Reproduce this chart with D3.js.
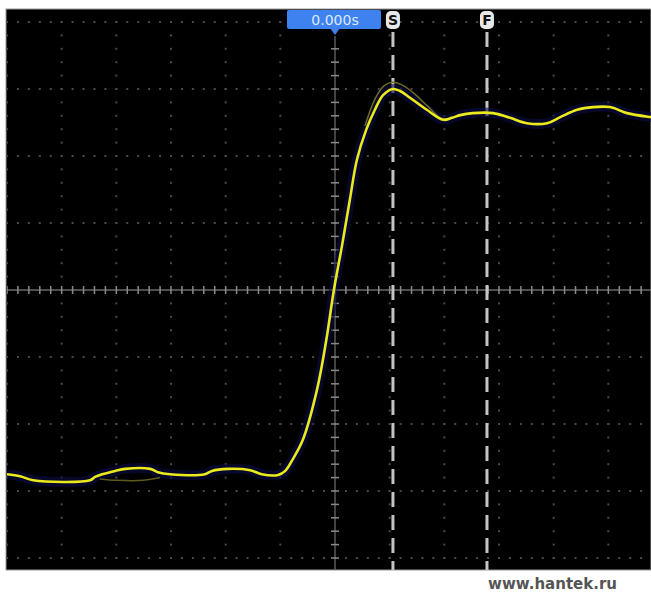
<!DOCTYPE html>
<html><head><meta charset="utf-8">
<script src="https://cdn.jsdelivr.net/npm/d3@7"></script>
<style>html,body{margin:0;padding:0;background:#fff;}svg{display:block;}</style>
</head><body>
<svg id="chart" width="651" height="594"></svg>
<script>
// ---- data (time and amplitude in screen divisions) ----
const traceTime = [-6.00,-5.76,-5.52,-4.48,-4.39,-4.26,-4.02,-3.84,-3.38,-3.24,-3.02,-2.38,-2.25,-1.96,-1.55,-1.34,-1.04,-0.91,-0.79,-0.59,-0.33,-0.16,-0.02,0.13,0.27,0.40,0.57,0.73,0.88,1.06,1.19,1.37,1.68,1.98,2.14,2.29,2.52,2.89,3.20,3.51,3.88,4.12,4.43,4.72,5.03,5.34,5.78,6.0];
const traceVolt = [-2.75,-2.78,-2.84,-2.84,-2.79,-2.75,-2.70,-2.67,-2.67,-2.72,-2.75,-2.75,-2.70,-2.67,-2.69,-2.75,-2.76,-2.70,-2.55,-2.24,-1.49,-0.75,0.00,0.67,1.34,1.94,2.39,2.69,2.91,3.00,2.97,2.87,2.69,2.54,2.57,2.61,2.64,2.64,2.57,2.49,2.49,2.58,2.69,2.73,2.73,2.64,2.58,2.56];
const shadowTime = [0.55,0.73,0.90,1.06,1.25,1.45,1.70,1.95,2.15];
const shadowVolt = [2.45,2.85,3.05,3.10,3.05,2.93,2.74,2.56,2.57];
const shadowLowTime = [-4.30,-4.00,-3.50,-3.20];
const shadowLowVolt = [-2.82,-2.84,-2.84,-2.80];
const cursorTimes = [1.06, 2.78];
const cursorLabels = ["S", "F"];
const triggerLabel = "0.000s";
const watermark = "www.hantek.ru";

// ---- layout ----
const svg = d3.select("#chart");
const plot = {x0: 7, x1: 651, y0: 10, y1: 570};
const x = d3.scaleLinear().domain([-6, 6]).range([7, 663]);
const y = d3.scaleLinear().domain([-4, 4]).range([558, 22]);

svg.append("defs").append("clipPath").attr("id","clip")
  .append("rect").attr("x",plot.x0).attr("y",plot.y0).attr("width",plot.x1-plot.x0).attr("height",plot.y1-plot.y0);

svg.append("rect").attr("x",plot.x0-1).attr("y",plot.y0-1).attr("width",plot.x1-plot.x0+1).attr("height",plot.y1-plot.y0+1)
  .attr("fill","#000").attr("stroke","#9a9a9a").attr("stroke-width",1);

const g = svg.append("g").attr("clip-path","url(#clip)");

// grid dots
const majorX = d3.range(-6, 7, 1);
const majorY = d3.range(-4, 5, 1);
const minorX = d3.range(-6, 6.01, 0.2);
const minorY = d3.range(-4, 4.01, 0.2);
const dots = [];
majorY.forEach(v => { if (v !== 0) minorX.forEach(t => dots.push([t, v])); });
majorX.forEach(t => { if (t !== 0) minorY.forEach(v => dots.push([t, v])); });
g.selectAll("rect.dot").data(dots).join("rect").attr("class","dot")
  .attr("x", d => x(d[0]) - 1).attr("y", d => y(d[1]) - 1)
  .attr("width", 2).attr("height", 2).attr("fill", "#4a4a4a");

// center axes
g.append("line").attr("x1",plot.x0).attr("x2",plot.x1).attr("y1",y(0)).attr("y2",y(0))
  .attr("stroke","#6a6a6a").attr("stroke-width",1.5);
g.append("line").attr("x1",x(0)).attr("x2",x(0)).attr("y1",plot.y0+26).attr("y2",plot.y1)
  .attr("stroke","#5a5a5a").attr("stroke-width",1.5);
g.selectAll("line.tx").data(minorX).join("line").attr("class","tx")
  .attr("x1", d => x(d)).attr("x2", d => x(d)).attr("y1", y(0)-4).attr("y2", y(0)+4)
  .attr("stroke","#8a8a8a").attr("stroke-width",1.5);
g.selectAll("line.ty").data(minorY.filter(v => y(v) > 36)).join("line").attr("class","ty")
  .attr("x1", x(0)-4).attr("x2", x(0)+4).attr("y1", d => y(d)).attr("y2", d => y(d))
  .attr("stroke","#8a8a8a").attr("stroke-width",1.5);

// cursors
g.selectAll("line.cursor").data(cursorTimes).join("line").attr("class","cursor")
  .attr("x1", d => x(d)).attr("x2", d => x(d)).attr("y1", 32).attr("y2", plot.y1)
  .attr("stroke","#c4c4c4").attr("stroke-width",3).attr("stroke-dasharray","15,8");

// trace
const line = d3.line().x(d => x(d[0])).y(d => y(d[1])).curve(d3.curveCatmullRom.alpha(0.5));
const trace = traceTime.map((t, i) => [t, traceVolt[i]]);
g.append("path").attr("d", line(trace)).attr("fill","none")
  .attr("stroke","#0b0b46").attr("stroke-width",10).attr("stroke-opacity",0.6).attr("stroke-linejoin","round");
g.append("path").attr("d", line(shadowTime.map((t,i)=>[t,shadowVolt[i]]))).attr("fill","none")
  .attr("stroke","#6e6a22").attr("stroke-width",1.5);
g.append("path").attr("d", line(shadowLowTime.map((t,i)=>[t,shadowLowVolt[i]]))).attr("fill","none")
  .attr("stroke","#5e5a1e").attr("stroke-width",1.5);
g.append("path").attr("d", line(trace)).attr("fill","none")
  .attr("stroke","#eaea1c").attr("stroke-width",2.6).attr("stroke-linejoin","round");

// trigger time tag
const tx0 = x(0);
svg.append("rect").attr("x", tx0-48).attr("y", 10).attr("width", 94).attr("height", 19).attr("rx",2)
  .attr("fill","#3d82ee");
svg.append("path").attr("d", `M${tx0-5},28 L${tx0},35 L${tx0+5},28 Z`).attr("fill","#3d82ee");
svg.append("text").attr("x", tx0).attr("y", 25).attr("text-anchor","middle")
  .attr("font-family","DejaVu Sans, sans-serif").attr("font-size",14).attr("fill","#dfe9ff")
  .text(triggerLabel);

// cursor labels
const tags = svg.selectAll("g.tag").data(cursorTimes).join("g").attr("class","tag")
  .attr("transform", d => `translate(${x(d)},0)`);
tags.append("rect").attr("x",-7).attr("y",11).attr("width",14).attr("height",18).attr("rx",5)
  .attr("fill","#e8e8e8");
tags.append("text").attr("x",0).attr("y",25).attr("text-anchor","middle")
  .attr("font-family","DejaVu Sans, sans-serif").attr("font-weight","bold").attr("font-size",14)
  .attr("fill","#111").text((d,i) => cursorLabels[i]);

// watermark
svg.append("text").attr("x", 617).attr("y", 589).attr("text-anchor","end")
  .attr("font-family","DejaVu Sans, sans-serif").attr("font-weight","bold").attr("font-size",15)
  .attr("fill","#555").text(watermark);
</script>
</body></html>
